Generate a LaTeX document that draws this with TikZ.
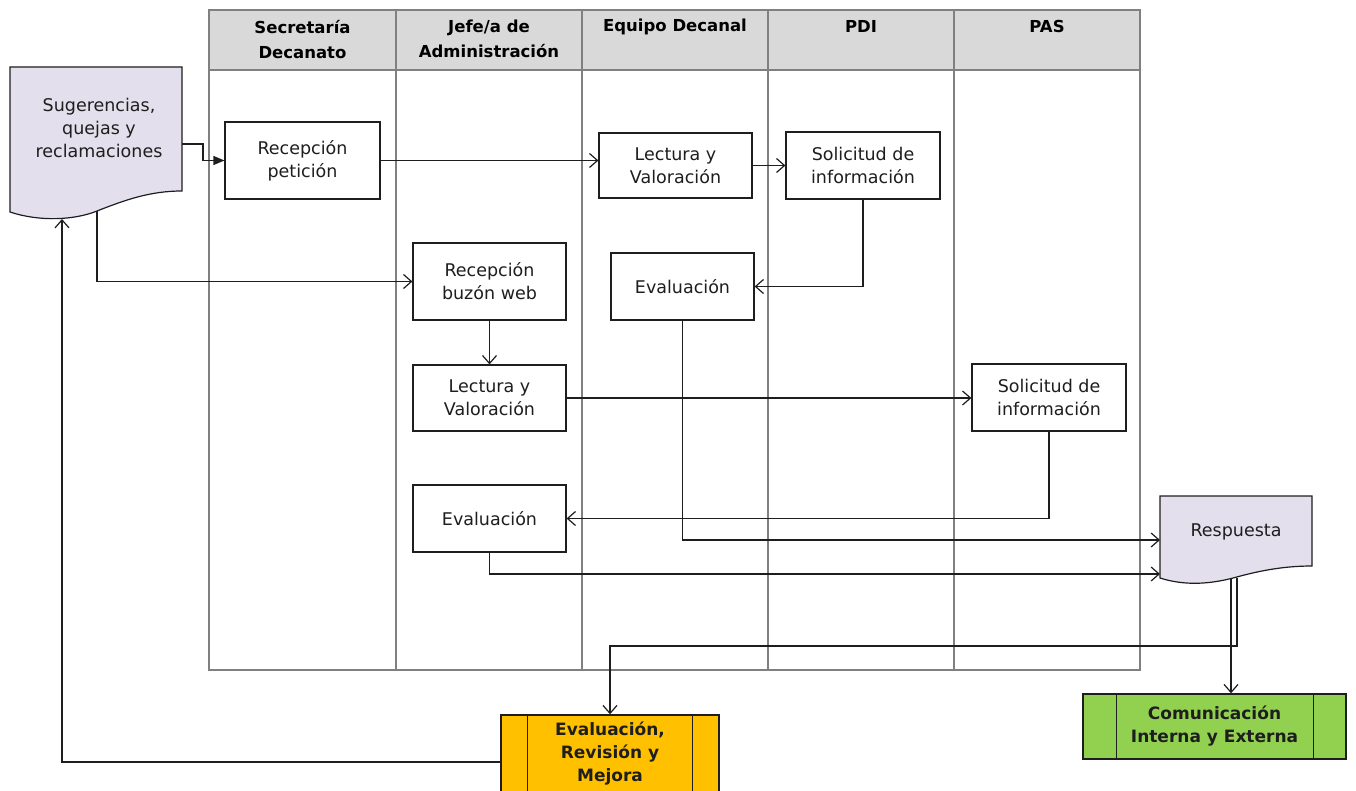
\documentclass[tikz,border=0pt]{standalone}
\usepackage{fontspec}
\setmainfont{DejaVu Sans}
\usetikzlibrary{arrows.meta}
\definecolor{hdrgray}{HTML}{D9D9D9}
\definecolor{lanegray}{HTML}{808080}
\definecolor{docfill}{HTML}{E4DFEC}
\definecolor{orangefill}{HTML}{FFC000}
\definecolor{greenfill}{HTML}{92D050}
\definecolor{ink}{HTML}{1E1E1E}
\begin{document}
\begin{tikzpicture}[x=1pt,y=-1pt,
 lane/.style={draw=lanegray,line width=2pt},
 stepbox/.style={draw=ink,line width=1.2pt,fill=white,align=center,inner sep=0pt,text=ink,font=\fontsize{17.5}{23}\selectfont},
 hdr/.style={anchor=north,align=center,inner sep=0pt,font=\fontsize{16.5}{25}\selectfont\bfseries},
 conn/.style={draw=ink,line width=1.2pt},
 arr/.style={conn,-{Straight Barb[length=8pt,width=14pt,line width=1.2pt]}},
 farr/.style={conn,-{Triangle[length=11pt,width=9pt]}},
 doc/.style={draw=ink,line width=1.2pt,fill=docfill},
 doctext/.style={align=center,inner sep=0pt,text=ink,font=\fontsize{17.5}{23}\selectfont},
 proc/.style={draw=ink,line width=1.4pt,align=center,inner sep=0pt,text=ink,font=\fontsize{17}{23}\selectfont\bfseries}
]
\useasboundingbox (0,0) rectangle (1356,791);
% swimlanes
\fill[hdrgray] (209,10) rectangle (1140,70);
\draw[lane] (209,10) rectangle (1140,670);
\draw[lane] (209,70) -- (1140,70);
\foreach \xx in {396,582,768,954} {\draw[lane] (\xx,10) -- (\xx,670);}
\node[hdr] (h1) at (302.5,20) {Secretaría\\Decanato};
\node[hdr] (h2) at (489,20) {Jefe/a de\\Administración};
\node[hdr] (h3) at (675,19) {Equipo Decanal};
\node[hdr] (h4) at (861,20) {PDI};
\node[hdr] (h5) at (1047,20) {PAS};
% documents
\path[doc] (10,67) -- (182,67) -- (182,191) .. controls (150,191) and (125,200) .. (97,211) .. controls (75,220) and (40,222) .. (10,212) -- cycle;
\node[doctext] (sug) at (99,128) {Sugerencias,\\quejas y\\reclamaciones};
\coordinate (sugR) at (182,144);
\coordinate (sugB) at (97,211);
\coordinate (sugIn) at (62,219);
\path[doc] (1160,496) -- (1312,496) -- (1312,566) .. controls (1280,566) and (1255,572) .. (1233,578) .. controls (1210,584) and (1185,586) .. (1160,578) -- cycle;
\node[doctext] (resp) at (1236,532) {Respuesta};
\coordinate (respIn1) at (1160,540);
\coordinate (respIn2) at (1160,574);
\coordinate (respOut1) at (1237,578);
\coordinate (respOut2) at (1231,579);
% steps
\node[stepbox,minimum width=155pt,minimum height=77pt] (rp) at (302.5,160.5) {Recepción\\petición};
\node[stepbox,minimum width=153pt,minimum height=65pt] (lv1) at (675.5,165.5) {Lectura y\\Valoración};
\node[stepbox,minimum width=154pt,minimum height=67pt] (si1) at (863,165.5) {Solicitud de\\información};
\node[stepbox,minimum width=153pt,minimum height=77pt] (rb) at (489.5,281.5) {Recepción\\buzón web};
\node[stepbox,minimum width=143pt,minimum height=67pt] (ev1) at (682.5,286.5) {Evaluación};
\node[stepbox,minimum width=153pt,minimum height=66pt] (lv2) at (489.5,398) {Lectura y\\Valoración};
\node[stepbox,minimum width=154pt,minimum height=67pt] (si2) at (1049,397.5) {Solicitud de\\información};
\node[stepbox,minimum width=153pt,minimum height=67pt] (ev2) at (489.5,518.5) {Evaluación};
% processes
\node[proc,fill=orangefill,minimum width=218pt,minimum height=78pt] (erm) at (610,754) {Evaluación,\\Revisión y\\Mejora};
\draw[ink,line width=1.2pt] ([xshift=27pt]erm.north west) -- ([xshift=27pt]erm.south west);
\draw[ink,line width=1.2pt] ([xshift=-27pt]erm.north east) -- ([xshift=-27pt]erm.south east);
\node[proc,fill=greenfill,minimum width=263pt,minimum height=65pt] (com) at (1214.5,726.5) {Comunicación\\Interna y Externa};
\draw[ink,line width=1.2pt] ([xshift=34pt]com.north west) -- ([xshift=34pt]com.south west);
\draw[ink,line width=1.2pt] ([xshift=-33pt]com.north east) -- ([xshift=-33pt]com.south east);
% connectors
\draw[farr] (sugR) -- (203,144) |- (rp.west);
\draw[arr] (rp.east) -- (rp.east -| lv1.west);
\draw[arr] (lv1.east) -- (si1.west);
\draw[arr] (si1.south) |- (ev1.east);
\draw[arr] (sugB) |- (rb.west);
\draw[arr] (rb.south) -- (lv2.north);
\draw[arr] (lv2.east) -- (lv2.east -| si2.west);
\draw[arr] (si2.south) |- (ev2.east);
\draw[arr] (ev1.south) |- (respIn1);
\draw[arr] (ev2.south) |- (respIn2);
\draw[arr] (respOut1) -- (1237,646) -| (erm.north);
\draw[arr] (respOut2) -- (respOut2 |- com.north);
\draw[arr] ([yshift=-8pt]erm.west) -| (sugIn);
\end{tikzpicture}
\end{document}
